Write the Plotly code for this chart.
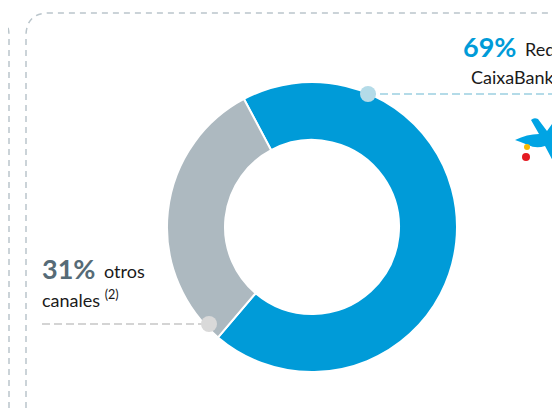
import plotly.graph_objects as go

# Data
categories = ["Red CaixaBank", "otros canales"]
values = [69, 31]
colors = ["#009bd8", "#adb9c0"]
pct_labels = ["69%", "31%"]

# page has an 8px body margin, so the figure covers reference pixels 8..560 / 8..411
OFF = 8
W, H = 560 - OFF, 411 - OFF
fig = go.Figure()

# Donut
cx, cy, r = 312, 227, 145
fig.add_trace(go.Pie(
    labels=categories, values=values, hole=0.6, sort=False,
    direction="clockwise", rotation=-28,
    marker=dict(colors=colors, line=dict(color="white", width=2)),
    textinfo="none", hoverinfo="label+percent", showlegend=False,
    domain=dict(x=[(cx - r - OFF) / W, (cx + r - OFF) / W],
                y=[(411 - cy - r) / H, (411 - cy + r) / H]),
))

border = dict(color="#bac5cb", width=1.5, dash="6px,5px")
shapes = [
    dict(type="path", path="M 9 430 L 9 36 Q 9 13 -14 13", line=border, layer="below"),
    dict(type="path", path="M 26 430 L 26 36 Q 26 13 49 13 L 580 13", line=border, layer="below"),
    dict(type="line", x0=368, y0=94, x1=570, y1=94,
         line=dict(color="#b4dbe8", width=2, dash="8px,4px"), layer="above"),
    dict(type="line", x0=42, y0=324, x1=209, y1=324,
         line=dict(color="#d4d4d4", width=2, dash="8px,4px"), layer="above"),
    dict(type="circle", x0=360, y0=86, x1=376, y1=102, fillcolor="#b4dbe8",
         line=dict(width=0), layer="above"),
    dict(type="circle", x0=201, y0=316, x1=217, y1=332, fillcolor="#d9d9d9",
         line=dict(width=0), layer="above"),
    # logo
    dict(type="path",
         path="M 515 140 Q 527 134 539 134 L 531 120 Q 534 117 538 119 L 547 131 "
              "L 560 113 Q 564 114 564 118 L 553 138 L 562 162 Q 559 166 555 165 "
              "L 545 146 Q 536 149 528 145 Q 521 142 515 140 Z",
         fillcolor="#00a4e4", line=dict(width=0), layer="above"),
    dict(type="circle", x0=524, y0=144, x1=530, y1=150, fillcolor="#f9b900",
         line=dict(width=0), layer="above"),
    dict(type="circle", x0=522, y0=153, x1=530, y1=161, fillcolor="#e41b23",
         line=dict(width=0), layer="above"),
]

font = "Lato, 'Open Sans', sans-serif"
ann = [
    dict(x=518, y=46, text="<b>" + pct_labels[0] + "</b>", xanchor="right", yanchor="middle",
         font=dict(family=font, size=27, color=colors[0])),
    dict(x=557, y=49, text="Red", xanchor="right", yanchor="middle",
         font=dict(family=font, size=18, color="#1a1a1a")),
    dict(x=557, y=77, text="CaixaBank", xanchor="right", yanchor="middle",
         font=dict(family=font, size=18, color="#1a1a1a")),
    dict(x=40, y=268, text="<b>" + pct_labels[1] + "</b>", xanchor="left", yanchor="middle",
         font=dict(family=font, size=27, color="#566b77")),
    dict(x=102, y=271, text="otros", xanchor="left", yanchor="middle",
         font=dict(family=font, size=18, color="#1a1a1a")),
    dict(x=40, y=299, text="canales <sup>(2)</sup>", xanchor="left", yanchor="middle",
         font=dict(family=font, size=18, color="#1a1a1a")),
]
for a in ann:
    a.update(xref="x", yref="y", showarrow=False)

fig.update_layout(
    width=W, height=H, margin=dict(l=0, r=0, t=0, b=0),
    paper_bgcolor="white", plot_bgcolor="white",
    xaxis=dict(range=[OFF, 560], visible=False, fixedrange=True),
    yaxis=dict(range=[411, OFF], visible=False, fixedrange=True),
    shapes=shapes, annotations=ann,
)
fig.write_html("out.html")
